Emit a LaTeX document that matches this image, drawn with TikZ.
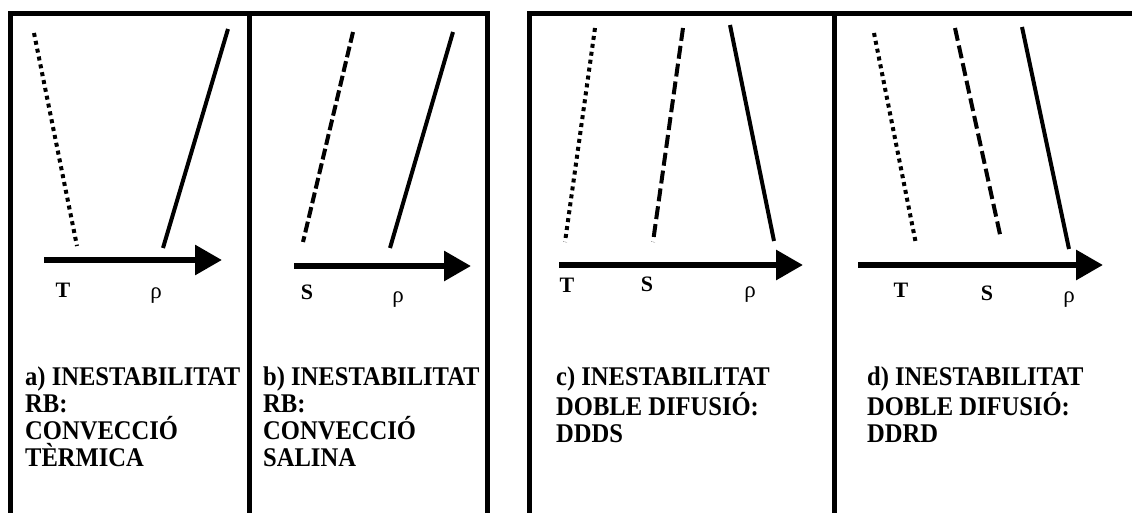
\documentclass[tikz,border=0pt]{standalone}
\usepackage{fontspec}
\setmainfont{Liberation Serif}
\newfontfamily\capfont[FakeStretch=0.91]{Liberation Serif}
\usetikzlibrary{arrows.meta}

\begin{document}
\begin{tikzpicture}[x=1pt,y=-1pt,
  frame/.style={line width=5pt,line join=miter},
  axis/.style={line width=6pt,-{Triangle[length=27pt,width=29pt]}},
  profile/.style={line width=4pt},
  dotline/.style={profile,dash pattern=on 4pt off 4pt},
  dashline/.style={profile,dash pattern=on 11pt off 4pt},
  longdash/.style={profile,dash pattern=on 13pt off 5pt},
  var/.style={inner sep=0pt,font=\fontsize{22}{22}\selectfont\bfseries},
  rho/.style={inner sep=0pt,font=\fontsize{23}{23}\selectfont},
  caption/.style={anchor=north west,inner sep=0pt,align=left,font=\capfont\fontsize{27}{27}\selectfont\bfseries}]
\useasboundingbox (0,0) rectangle (1132,513);
% frames
\draw[frame] (10.5,513) -- (10.5,13.5) -- (487.5,13.5) -- (487.5,513); \draw[frame] (249.5,13.5) -- (249.5,513);
\draw[frame] (529.5,513) -- (529.5,13.5) -- (1132,13.5); \draw[frame] (834,13.5) -- (834,513);
% a) thermal convection
\draw[dotline] (34,33) -- (77,246); \draw[profile] (228,29) -- (163,248);
\draw[axis] (44,260) -- (222,260);
\node[var] (Ta) at (63,290) {T}; \node[rho] (rhoa) at (156,296) {ρ};
\node[caption] (capa) at (25,367) {a) INESTABILITAT\\RB:\\CONVECCIÓ\\TÈRMICA};
% b) saline convection
\draw[dashline] (353,32) -- (303,242); \draw[profile] (453,32) -- (390,248);
\draw[axis] (294,266) -- (471,266);
\node[var] (Sb) at (307,292) {S}; \node[rho] (rhob) at (398,300) {ρ};
\node[caption] (capb) at (263,367) {b) INESTABILITAT\\RB:\\CONVECCIÓ\\SALINA};
% c) DDDS
\draw[dotline] (595,28) -- (565,242); \draw[longdash] (683,28) -- (653,242); \draw[profile] (730,25) -- (774,241);
\draw[axis] (559,265) -- (803,265);
\node[var] (Tc) at (567,285) {T}; \node[var] (Sc) at (647,284) {S}; \node[rho] (rhoc) at (750,295) {ρ};
\node[caption] (capc) at (556,367) {c) INESTABILITAT\\DOBLE DIFUSIÓ:\\DDDS};
% d) DDRD
\draw[dotline] (874,33) -- (916,244); \draw[longdash] (955,28) -- (1001,239); \draw[profile] (1022,27) -- (1069,249);
\draw[axis] (858,265) -- (1103,265);
\node[var] (Td) at (901,290) {T}; \node[var] (Sd) at (987,293) {S}; \node[rho] (rhod) at (1069,300) {ρ};
\node[caption] (capd) at (867,367) {d) INESTABILITAT\\DOBLE DIFUSIÓ:\\DDRD};
\end{tikzpicture}
\end{document}
